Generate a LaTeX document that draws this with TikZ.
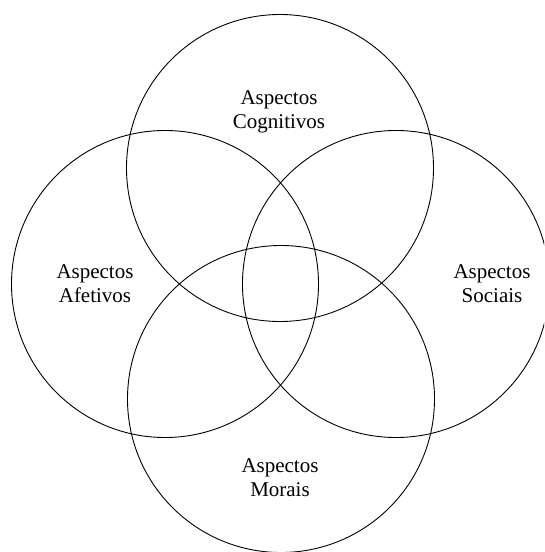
\documentclass[tikz,border=0pt]{standalone}
\usepackage{fontspec}
\setmainfont{Liberation Serif}
\begin{document}
\begin{tikzpicture}[x=1pt,y=-1pt,
  ring/.style={draw=black,line width=0.9pt,circle,minimum size=307pt,inner sep=0pt},
  lbl/.style={align=center,font=\fontsize{21}{24}\selectfont}]
\useasboundingbox (0,0) rectangle (544,552);
\begin{scope}
\clip (0,0) rectangle (544,552);
\node[ring] (cog) at (280,168) {};
\node[ring] (afe) at (165,284) {};
\node[ring] (soc) at (396,284) {};
\node[ring] (mor) at (281,399) {};
\end{scope}
\node[lbl] (tcog) at (279,112) {Aspectos\\Cognitivos};
\node[lbl] (tafe) at (95,284) {Aspectos\\Afetivos};
\node[lbl] (tsoc) at (492,284) {Aspectos\\Sociais};
\node[lbl] (tmor) at (280,478) {Aspectos\\Morais};
\end{tikzpicture}
\end{document}
